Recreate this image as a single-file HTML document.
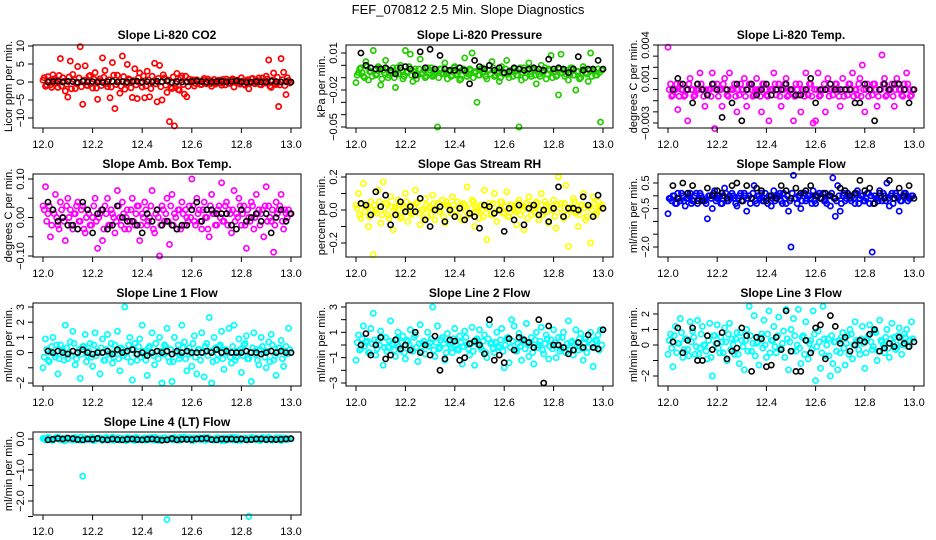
<!DOCTYPE html>
<html><head><meta charset="utf-8"><title>FEF_070812 Slope Diagnostics</title>
<style>
html,body{margin:0;padding:0;background:#fff;}
svg{display:block;font-family:"Liberation Sans",sans-serif;}
</style></head>
<body>
<svg id="chart" width="936" height="540" viewBox="0 0 936 540">
<text x="468" y="14" text-anchor="middle" font-size="13">FEF_070812  2.5 Min. Slope Diagnostics</text>
</svg>
<script>
// shared time axes
const xColored = [12.00,12.01,12.02,12.03,12.04,12.05,12.06,12.07,12.08,12.09,12.10,12.11,12.12,12.13,12.14,12.15,12.16,12.17,12.18,12.19,12.20,12.21,12.22,12.23,12.24,12.25,12.26,12.27,12.28,12.29,12.30,12.31,12.32,12.33,12.34,12.35,12.36,12.37,12.38,12.39,12.40,12.41,12.42,12.43,12.44,12.45,12.46,12.47,12.48,12.49,12.50,12.51,12.52,12.53,12.54,12.55,12.56,12.57,12.58,12.59,12.60,12.61,12.62,12.63,12.64,12.65,12.66,12.67,12.68,12.69,12.70,12.71,12.72,12.73,12.74,12.75,12.76,12.77,12.78,12.79,12.80,12.81,12.82,12.83,12.84,12.85,12.86,12.87,12.88,12.89,12.90,12.91,12.92,12.93,12.94,12.95,12.96,12.97,12.98,12.99];
const xBand = [12.005,12.015,12.025,12.035,12.045,12.055,12.065,12.075,12.085,12.095,12.105,12.115,12.125,12.135,12.145,12.155,12.165,12.175,12.185,12.195,12.205,12.215,12.225,12.235,12.245,12.255,12.265,12.275,12.285,12.295,12.305,12.315,12.325,12.335,12.345,12.355,12.365,12.375,12.385,12.395,12.405,12.415,12.425,12.435,12.445,12.455,12.465,12.475,12.485,12.495,12.505,12.515,12.525,12.535,12.545,12.555,12.565,12.575,12.585,12.595,12.605,12.615,12.625,12.635,12.645,12.655,12.665,12.675,12.685,12.695,12.705,12.715,12.725,12.735,12.745,12.755,12.765,12.775,12.785,12.795,12.805,12.815,12.825,12.835,12.845,12.855,12.865,12.875,12.885,12.895,12.905,12.915,12.925,12.935,12.945,12.955,12.965,12.975,12.985,12.995];
const xBlack = [12.02,12.04,12.06,12.08,12.10,12.12,12.14,12.16,12.18,12.20,12.22,12.24,12.26,12.28,12.30,12.32,12.34,12.36,12.38,12.40,12.42,12.44,12.46,12.48,12.50,12.52,12.54,12.56,12.58,12.60,12.62,12.64,12.66,12.68,12.70,12.72,12.74,12.76,12.78,12.80,12.82,12.84,12.86,12.88,12.90,12.92,12.94,12.96,12.98,13.00];
const xTicks = [12.0,12.2,12.4,12.6,12.8,13.0];
const xTickLabels = ["12.0","12.2","12.4","12.6","12.8","13.0"];

const co2Colored = [0.5,-1.2,1.5,-0.8,2.0,0.3,-1.5,6.5,1.2,-2.5,-4.2,5.8,2.1,-1.8,4.3,9.8,-6.2,4.5,-1.0,1.8,-1.7,2.6,-4.8,0.9,6.7,3.2,-1.3,-4.4,5.4,-7.4,1.9,-3.1,7.2,-2.0,4.9,0.6,-4.3,3.7,-4.6,2.5,-1.4,-4.4,3.0,-4.1,1.6,5.2,-5.5,4.6,-5.0,1.1,-2.9,-11.0,-1.8,-12.2,2.4,-2.3,1.7,-3.4,-4.1,0.8,0.4,-1.1,0.6,0.2,-0.7,1.0,-0.5,0.3,-1.2,0.7,-0.3,0.5,-0.9,0.2,0.8,-0.4,0.6,-1.4,0.3,-0.2,1.2,-0.6,0.4,-1.9,0.9,-0.3,0.5,1.1,-0.8,0.2,1.6,6.1,-1.5,2.5,-0.7,-6.8,6.5,2.7,-3.5,0.4];
const co2Band = [1.2,-0.8,0.4,-1.5,0.9,-0.3,1.8,-1.1,0.2,-0.6,1.4,-1.9,0.7,-0.2,1.1,-1.3,0.5,-0.9,1.6,-0.4,0.8,-1.7,0.3,-1.0,1.3,-0.5,0.6,-1.4,1.9,-0.7,0.1,-1.2,1.5,-0.3,0.9,-1.6,0.4,-0.8,1.2,-0.2,1.7,-1.1,0.6,-1.8,0.3,-0.5,1.0,-1.3,2.0,-0.9,0.5,-1.5,1.4,-0.4,-2.1,1.1,-0.7,1.6,-1.2,0.2,0.6,-0.4,0.3,-0.7,0.5,-0.2,0.8,-0.5,0.1,-0.6,0.4,-0.3,0.7,-0.8,0.2,-0.4,0.9,-0.1,0.5,-0.6,0.3,-0.9,0.6,-0.2,1.0,-0.5,0.4,-0.7,1.1,-0.3,0.8,-1.2,0.5,-0.4,1.3,-0.8,0.6,-1.0,1.2,-0.3];
const co2Black = [0.0,0.1,0.2,0.0,0.2,0.1,-0.1,0.2,0.0,0.1,0.0,-0.1,0.1,0.2,0.0,0.1,0.0,0.1,0.2,0.0,0.1,0.0,0.2,0.1,0.3,-0.1,0.1,0.0,0.0,0.1,0.3,0.1,0.0,0.0,0.1,0.2,0.0,0.1,0.3,0.0,-0.1,0.0,0.1,0.0,0.0,0.2,0.1,0.0,0.1,0.0];

const presColored = [-0.014,-0.006,-0.002,-0.009,0.003,-0.012,-0.005,0.012,-0.008,-0.001,-0.016,-0.004,0.004,-0.010,-0.006,-0.002,-0.018,-0.007,0.000,-0.011,0.012,-0.005,0.009,-0.013,-0.003,-0.008,0.005,-0.006,-0.010,-0.002,-0.004,-0.009,-0.007,-0.050,-0.003,-0.006,0.002,-0.011,-0.005,-0.008,-0.001,-0.007,-0.012,-0.004,0.006,-0.009,-0.003,0.010,-0.006,-0.030,-0.008,-0.002,-0.005,-0.011,-0.004,0.003,-0.009,-0.006,-0.013,-0.001,-0.007,0.004,-0.010,-0.005,-0.003,-0.008,-0.050,-0.012,-0.002,-0.006,0.002,-0.009,-0.004,-0.015,-0.007,0.000,-0.005,-0.011,-0.003,0.008,-0.006,-0.009,-0.024,0.009,-0.004,-0.007,-0.012,-0.002,-0.008,-0.020,-0.005,-0.010,-0.001,-0.006,-0.013,0.010,-0.004,-0.008,-0.003,-0.046];
const presBand = [-0.008,-0.003,-0.006,-0.010,-0.001,-0.005,-0.009,-0.004,-0.007,-0.002,-0.011,-0.006,-0.003,-0.008,-0.005,-0.010,-0.002,-0.007,-0.004,-0.009,-0.006,-0.001,-0.008,-0.005,-0.011,-0.003,-0.007,-0.004,-0.009,-0.006,-0.002,-0.008,-0.005,-0.010,-0.003,-0.007,-0.006,-0.004,-0.009,-0.002,-0.008,-0.005,-0.011,-0.003,-0.006,-0.007,-0.004,-0.010,-0.005,-0.008,-0.003,-0.006,-0.009,-0.004,-0.007,-0.002,-0.008,-0.005,-0.010,-0.006,-0.003,-0.007,-0.004,-0.009,-0.005,-0.008,-0.002,-0.006,-0.010,-0.004,-0.007,-0.003,-0.008,-0.005,-0.009,-0.006,-0.002,-0.007,-0.004,-0.010,-0.005,-0.008,-0.003,-0.006,-0.009,-0.004,-0.007,-0.002,-0.008,-0.005,-0.011,-0.006,-0.003,-0.007,-0.004,-0.009,-0.005,-0.008,-0.006,-0.004];
const presBlack = [0.010,0.000,-0.002,-0.003,-0.003,-0.002,-0.004,-0.007,-0.002,-0.001,-0.003,-0.008,0.011,-0.002,0.013,-0.003,0.008,-0.003,-0.004,-0.004,-0.002,-0.004,-0.015,0.004,-0.001,-0.003,0.000,-0.004,-0.002,-0.006,-0.005,-0.002,-0.003,-0.004,-0.003,-0.002,-0.003,-0.004,0.005,-0.003,-0.002,-0.003,-0.006,-0.003,0.007,-0.004,-0.003,-0.003,0.004,-0.003];

const tempColored = [0.0038,0.0005,-0.0005,0,-0.0018,0.0005,0,-0.0005,-0.0028,0.0010,0,-0.0005,0.0005,0.0015,0,-0.0015,-0.0005,0,0.0015,-0.0035,0.0005,0,-0.0015,0.0010,-0.0005,0.0015,0,0.0005,-0.0020,-0.0005,0,0.0010,-0.0015,0.0005,0,-0.0005,0.0010,0,-0.0020,0.0005,-0.0005,-0.0028,0,0.0015,-0.0005,0.0005,-0.0015,0,0.0010,-0.0005,0,-0.0028,0.0005,-0.0005,-0.0020,0,0.0015,-0.0005,0.0005,-0.0030,-0.0028,0.0015,-0.0005,0,-0.0020,0.0010,0,-0.0005,0.0005,0,-0.0015,0.0010,0,-0.0005,0.0005,0.0015,0,-0.0005,0.0010,0.0022,-0.0020,0.0005,0,-0.0005,0.0005,-0.0015,0,0.0031,0.0010,-0.0005,0,0.0005,-0.0015,0.0010,0,-0.0005,0.0005,0.0015,0,-0.0005];
const tempBand = [0,-0.0006,0,0.0005,-0.0006,0,-0.0006,0,0.0005,0,-0.0006,0,0,0.0005,-0.0006,0,0,-0.0006,0.0005,0,-0.0006,0,0.0005,0,-0.0006,0,0,-0.0006,0,0.0005,0,-0.0006,0,0.0005,-0.0006,0,0,-0.0006,0.0005,0,-0.0006,0,0,0.0005,0,-0.0006,0,0.0005,-0.0006,0,0,-0.0006,0,0.0005,0,-0.0006,0,0.0005,-0.0006,0,0,-0.0006,0,0.0005,0,-0.0006,0,0,0.0005,-0.0006,0,-0.0006,0,0.0005,0,-0.0006,0,0.0005,-0.0006,0,0,-0.0006,0,0.0005,0,-0.0006,0,0.0005,-0.0006,0,0,-0.0006,0,0.0005,0,-0.0006,0,0.0005,-0.0006,0];
const tempBlack = [0,0.0010,0.0005,0,-0.0012,0.0005,0,-0.0005,0.0005,0,-0.0025,0,-0.0012,0.0005,-0.0028,0,0.0005,-0.0005,0,0.0005,-0.0005,0,0,0.0005,0,-0.0005,-0.0005,0,0.0010,-0.0012,0,0,0.0005,0,0,0,0,-0.0012,-0.0012,0.0005,0,-0.0028,0,0.0005,0,0.0005,0.0005,0,-0.0012,0];

const ambColored = [0.03,0.08,0.01,-0.05,0.02,0.06,-0.02,0.04,0.00,-0.06,0.05,0.02,-0.03,0.01,0.04,-0.01,0.03,-0.04,0.02,-0.02,0.00,0.05,-0.08,0.01,-0.06,0.03,0.05,-0.02,0.01,-0.04,0.07,0.00,0.04,-0.03,0.02,-0.01,0.05,-0.02,0.03,-0.06,0.01,0.04,-0.02,0.00,0.07,-0.04,0.02,-0.10,0.03,-0.01,0.05,-0.07,0.06,0.01,-0.03,0.02,0.04,-0.02,0.00,0.03,0.10,-0.01,0.05,0.02,-0.03,0.04,0.00,-0.05,0.06,0.01,-0.02,0.03,0.09,-0.01,0.04,0.02,-0.04,0.07,0.01,0.05,-0.02,0.03,-0.08,0.00,0.04,-0.03,0.06,0.02,0.01,-0.05,0.08,0.03,-0.01,-0.09,0.04,0.02,0.06,-0.03,0.01,0.02];
const ambBand = [0.02,-0.01,0.03,-0.02,0.01,0.00,-0.03,0.02,-0.01,0.03,0.00,-0.02,0.01,0.03,-0.01,0.02,-0.03,0.00,0.01,-0.02,0.03,-0.01,0.00,0.02,-0.03,0.01,-0.02,0.02,0.00,-0.01,0.03,-0.02,0.01,0.00,-0.03,0.02,-0.01,0.01,0.03,-0.02,0.00,0.02,-0.01,0.03,-0.03,0.01,0.00,-0.02,0.02,0.01,-0.01,0.03,-0.02,0.00,0.02,-0.03,0.01,0.02,-0.01,0.00,0.03,-0.02,0.01,-0.01,0.02,0.00,-0.03,0.03,0.01,-0.02,0.02,0.00,-0.01,0.03,-0.02,0.01,0.02,-0.01,0.00,0.03,0.01,-0.02,0.02,-0.01,0.03,0.00,0.01,-0.02,0.02,0.03,-0.01,0.00,0.02,-0.02,0.01,0.03,-0.01,0.02,0.00,0.01];
const ambBlack = [0.04,0.02,-0.01,0.00,-0.02,-0.02,-0.03,0.04,0.02,-0.04,0.01,0.02,-0.03,-0.02,0.03,0.00,-0.01,-0.01,-0.02,-0.04,0.01,-0.01,0.02,-0.02,-0.01,-0.02,-0.03,-0.02,-0.02,0.02,0.04,-0.01,0.02,0.02,0.01,0.01,0.01,-0.02,-0.03,0.02,-0.01,0.00,0.01,-0.01,0.01,-0.04,0.00,0.02,-0.01,0.01];

const rhColored = [0.03,0.10,-0.05,0.16,0.02,-0.10,0.05,-0.27,0.00,0.12,-0.08,0.17,0.04,-0.03,0.08,-0.12,0.02,0.06,-0.05,0.01,0.10,-0.07,0.03,-0.02,0.12,0.05,-0.09,0.00,0.07,-0.04,0.02,0.09,-0.06,0.04,-0.01,0.06,-0.08,0.03,0.00,0.08,-0.04,0.05,0.01,-0.06,0.03,0.14,-0.02,0.06,-0.10,0.02,-0.05,0.00,0.12,-0.18,0.04,-0.03,0.10,-0.07,0.01,0.05,-0.02,0.11,-0.04,0.03,0.00,-0.09,0.06,0.02,-0.12,0.04,0.08,-0.03,0.01,0.05,-0.06,0.10,-0.01,0.03,-0.08,0.02,0.06,-0.11,0.20,0.04,-0.05,0.15,-0.22,0.01,0.07,-0.02,-0.10,0.03,0.10,-0.06,0.02,-0.20,0.08,-0.03,0.05,0.02];
const rhBand = [0.01,-0.03,0.04,-0.01,0.02,-0.04,0.00,0.03,-0.02,0.05,-0.03,0.01,0.04,-0.05,0.02,0.00,-0.02,0.03,-0.04,0.01,0.05,-0.01,-0.03,0.02,0.04,-0.02,0.00,-0.05,0.03,0.01,-0.03,0.04,0.00,-0.01,0.02,-0.04,0.05,0.01,-0.02,0.03,0.00,-0.04,0.02,0.04,-0.01,-0.03,0.01,0.05,-0.02,0.00,0.03,-0.04,0.02,0.01,-0.03,0.04,-0.01,0.00,0.05,-0.02,0.02,-0.04,0.03,0.01,-0.01,0.04,-0.03,0.00,0.02,-0.05,0.03,0.01,-0.02,0.04,0.00,-0.03,0.05,-0.01,0.02,0.00,-0.04,0.03,0.01,-0.02,0.04,-0.03,0.00,0.02,0.05,-0.01,-0.03,0.03,0.01,-0.04,0.02,0.00,0.04,-0.02,0.01,0.03];
const rhBlack = [0.04,0.03,-0.03,0.11,0.02,0.09,-0.09,-0.03,0.05,-0.01,0.02,-0.01,0.07,-0.06,-0.10,0.00,0.02,-0.07,0.00,-0.04,0.01,-0.06,-0.02,-0.04,-0.11,0.03,0.02,-0.02,0.00,-0.13,0.01,-0.06,0.03,-0.09,0.01,0.03,-0.03,0.00,-0.07,0.01,0.14,-0.04,0.01,0.01,0.00,0.08,0.03,-0.04,0.09,0.01];

const sampleColored = [-0.7,-0.1,0.0,-0.3,0.1,-0.2,0.0,-0.4,-0.1,0.1,-0.2,0.0,-0.3,0.1,-0.1,-0.2,-0.9,0.0,-0.5,0.2,-0.1,0.0,-0.3,0.3,-0.2,0.0,0.1,-0.1,-0.4,0.0,-0.2,0.1,-0.6,0.0,-0.1,0.4,-0.3,0.0,0.1,-0.2,-0.1,0.0,-0.4,0.2,-0.1,0.0,-0.2,0.1,-0.3,-0.6,-2.0,0.8,-0.1,0.0,-0.5,0.1,-0.2,0.0,-0.1,0.2,-0.3,0.0,-0.1,0.1,-0.2,0.0,-0.4,0.7,-0.8,0.4,-0.6,0.0,-0.2,0.1,-0.1,0.0,-0.3,0.2,-0.1,0.0,-0.2,0.1,-0.3,-2.2,0.0,-0.1,0.2,-0.2,0.0,0.5,-0.4,0.1,-0.1,0.0,-0.6,-0.2,0.1,0.0,-0.1,0.0];
const sampleBand = [-0.1,-0.2,0.0,-0.3,-0.1,0.1,-0.2,-0.1,0.0,-0.3,-0.2,0.1,-0.1,0.0,-0.2,-0.3,0.0,-0.1,0.1,-0.2,-0.1,-0.3,0.0,0.1,-0.2,-0.1,0.0,-0.3,-0.1,0.1,-0.2,0.0,-0.1,-0.3,0.1,-0.2,0.0,-0.1,-0.2,0.1,-0.3,0.0,-0.1,-0.2,0.0,0.1,-0.3,-0.1,0.0,-0.2,0.1,-0.1,-0.3,0.0,-0.2,0.1,-0.1,0.0,-0.3,-0.2,0.0,0.1,-0.1,-0.2,-0.3,0.0,0.1,-0.1,-0.2,0.0,-0.3,0.1,-0.1,0.0,-0.2,-0.1,0.1,-0.3,0.0,-0.2,-0.1,0.1,0.0,-0.3,-0.1,-0.2,0.0,0.1,-0.2,-0.1,0.0,-0.3,0.1,-0.1,-0.2,0.0,0.1,-0.2,-0.1,0.0];
const sampleBlack = [0.4,-0.1,0.5,0.1,0.4,-0.2,-0.2,0.3,0.0,0.2,0.1,-0.1,0.4,0.5,-0.2,0.4,-0.1,0.3,0.2,-0.2,0.0,-0.1,0.4,0.2,-0.1,0.3,0.1,0.2,0.4,0.0,-0.1,0.1,0.0,-0.1,0.3,0.2,0.0,0.1,0.6,0.2,0.3,-0.3,0.1,-0.1,0.6,-0.1,0.3,0.0,0.4,-0.1];

const line1Colored = [-1.0,0.9,-0.5,0.0,1.0,-0.3,-1.4,0.5,0.2,1.8,-0.4,0.7,1.4,-0.8,0.0,-1.7,0.4,1.2,-0.2,0.6,-0.9,1.3,0.1,-1.4,0.9,-0.5,1.2,0.0,-0.7,0.5,1.4,-1.2,0.2,3.0,-0.3,1.0,-1.8,0.6,-0.5,0.9,1.8,-0.2,-1.5,0.4,1.3,-0.8,0.1,1.0,-2.0,0.5,1.6,-0.6,-1.9,1.0,0.0,-0.4,1.8,0.7,-1.2,0.3,-0.9,1.1,-1.4,0.2,1.3,-1.6,0.6,2.3,-2.0,1.0,-0.5,0.4,1.4,-1.1,0.0,1.6,-0.7,1.8,-0.3,0.9,-1.3,0.5,1.1,-0.4,-1.9,1.3,0.2,-0.8,1.0,0.0,-1.0,0.7,1.2,-0.5,-1.5,0.3,0.8,-0.9,0.4,1.6];
const line1Band = [-0.3,0.2,-0.6,0.4,-0.1,0.5,-0.4,0.1,-0.5,0.3,0.0,-0.2,0.6,-0.4,0.2,-0.1,0.4,-0.6,0.1,-0.3,0.5,-0.2,0.0,0.3,-0.5,0.2,-0.1,0.6,-0.3,0.1,-0.4,0.3,-0.2,0.0,0.5,-0.6,0.2,-0.1,0.4,-0.3,0.1,-0.5,0.3,0.0,-0.2,0.6,-0.4,0.1,-0.1,0.4,-0.3,0.2,-0.6,0.0,0.5,-0.2,0.3,-0.4,0.1,-0.1,0.6,-0.3,0.2,-0.5,0.0,0.4,-0.2,0.1,-0.6,0.3,-0.1,0.5,-0.4,0.2,0.0,-0.3,0.4,-0.5,0.1,0.2,-0.2,0.6,-0.4,0.0,0.3,-0.1,-0.5,0.2,0.4,-0.3,0.1,-0.6,0.5,-0.2,0.0,0.3,-0.4,0.1,-0.1,0.2];
const line1Black = [0.1,0.0,0.1,0.0,-0.1,0.1,0.0,0.2,0.0,-0.1,0.0,0.0,0.1,-0.1,0.2,0.0,0.1,0.2,-0.1,0.0,-0.2,0.0,0.1,0.0,0.1,-0.1,0.1,0.0,0.1,0.0,0.0,0.0,0.1,0.0,0.2,0.0,0.1,0.0,0.0,0.0,0.1,0.0,0.0,-0.1,0.0,0.1,0.0,0.1,0.0,0.0];

const line2Colored = [-1.2,0.8,-0.3,1.5,0.2,-0.6,1.3,2.5,-0.8,0.4,1.1,-1.6,0.6,-0.2,1.9,0.0,-0.9,1.0,-0.4,0.7,-1.1,0.3,1.2,-0.5,0.8,-1.3,1.6,0.1,-0.7,1.0,0.2,3.0,-0.9,1.5,-0.2,0.6,-1.2,0.9,0.0,-0.6,1.3,-0.3,0.7,-1.5,1.1,0.0,-0.8,1.4,-1.6,0.5,1.2,-0.4,0.8,-1.0,1.6,0.2,-0.6,1.0,-0.2,1.3,-1.8,0.5,-1.4,2.0,1.5,-0.5,0.9,-1.2,0.3,1.7,-0.9,0.6,-1.5,1.0,0.0,1.4,-0.7,0.8,-1.1,0.4,1.2,-1.0,0.6,-0.3,1.0,-0.6,1.9,0.2,-0.8,1.2,-0.4,0.9,-1.2,0.5,-0.2,1.0,-1.7,0.4,0.8,1.2];
const line2Band = [0.2,-0.4,0.5,-0.1,0.3,-0.6,0.1,0.4,-0.3,0.0,0.6,-0.2,-0.5,0.3,0.1,-0.4,0.5,-0.1,0.2,-0.6,0.4,0.0,-0.3,0.6,-0.2,0.1,-0.5,0.3,0.0,-0.1,0.5,-0.4,0.2,-0.3,0.4,0.1,-0.6,0.3,-0.2,0.5,0.0,-0.4,0.2,-0.1,0.6,-0.3,0.1,-0.5,0.4,0.0,-0.2,0.3,-0.6,0.5,0.1,-0.3,0.2,-0.1,0.4,-0.5,0.0,0.6,-0.2,0.3,-0.4,0.1,-0.1,0.5,-0.3,0.2,0.0,-0.6,0.4,-0.2,0.3,-0.4,0.1,0.5,-0.1,-0.3,0.2,0.0,-0.5,0.6,-0.2,0.1,-0.4,0.3,0.0,-0.1,0.5,-0.3,0.2,-0.6,0.4,0.1,-0.2,0.3,-0.4,0.0];
const line2Black = [0.0,0.9,-0.8,0.0,0.6,-1.1,-0.8,0.4,-0.3,0.0,-0.4,1.0,-0.6,0.0,-0.8,0.7,-2.0,-1.1,0.4,0.3,-1.2,-1.0,0.1,0.3,0.0,-0.7,2.0,-1.2,-0.8,-1.4,0.5,-0.4,0.6,0.4,0.2,-0.2,2.0,-3.0,1.5,0.0,0.0,-0.2,-0.7,-0.4,0.2,-0.2,0.8,-0.2,-0.3,1.2];

const line3Colored = [-0.6,0.7,-1.4,1.2,0.1,1.7,-0.8,0.4,-0.3,1.5,0.9,-0.6,1.6,-0.2,1.2,0.0,-0.9,1.4,-2.0,0.6,1.3,-0.5,0.2,1.1,-1.0,1.4,0.4,-0.6,0.8,-1.2,0.3,-1.6,1.0,2.5,-0.4,1.9,0.1,-1.3,0.7,1.6,-0.8,2.2,0.3,1.2,-0.5,1.8,-0.2,0.9,2.3,-1.6,1.0,1.7,-0.4,2.3,-1.2,0.6,1.5,-0.9,0.3,2.2,-2.3,0.9,-1.5,2.5,-0.7,0.4,-2.0,-1.2,0.2,-1.6,-0.5,0.8,-1.3,0.6,1.0,-0.9,1.5,0.2,-0.6,1.2,-1.5,0.4,1.3,-0.3,0.9,-1.0,1.6,0.2,-0.5,1.0,-0.8,1.4,0.5,-0.2,1.1,-0.6,0.7,1.0,0.3,1.5];
const line3Band = [0.3,-0.2,0.6,-0.5,0.1,0.8,-0.3,0.4,-0.7,0.2,0.5,-0.1,-0.6,0.7,0.0,-0.4,0.3,-0.8,0.6,0.1,-0.2,0.5,-0.5,0.2,0.7,-0.3,0.0,0.4,-0.6,0.8,-0.1,0.3,-0.4,0.6,0.1,-0.7,0.2,0.5,-0.2,0.0,0.7,-0.5,0.3,-0.1,0.6,-0.3,0.1,-0.8,0.4,0.2,-0.4,0.6,0.0,-0.2,0.5,-0.6,0.3,0.1,-0.3,0.7,-0.1,0.2,-0.5,0.4,0.0,-0.7,0.6,0.2,-0.4,0.3,0.5,-0.2,0.1,-0.6,0.7,0.0,0.3,-0.3,0.4,0.1,-0.5,0.6,0.2,-0.1,0.8,-0.4,0.3,0.0,0.5,-0.2,0.4,0.1,-0.3,0.6,0.2,0.0,0.5,-0.1,0.3,0.4];
const line3Black = [0.2,1.1,-0.5,0.3,1.1,-1.0,-1.0,0.6,-0.3,0.1,0.8,-0.9,-0.4,-0.2,1.1,0.6,-1.7,0.5,0.4,-1.4,-1.3,0.5,-0.3,2.2,-0.4,-1.7,-1.7,0.3,-0.5,1.1,1.3,-0.9,1.9,1.2,0.1,0.5,-0.4,0.0,0.3,0.2,0.7,1.0,-0.4,-0.2,0.1,-0.1,0.5,0.1,-0.1,0.2];

const line4Colored = [0.02,-0.03,0.05,0.00,-0.04,0.03,0.06,-0.02,0.01,-0.05,0.04,0.00,-0.03,0.05,0.02,-0.04,-1.20,0.03,0.00,-0.02,0.05,-0.03,0.01,0.04,-0.05,0.02,0.00,-0.03,0.06,-0.01,0.03,-0.04,0.02,0.00,0.05,-0.02,0.01,-0.05,0.03,0.00,-0.03,0.04,0.01,-0.02,0.05,-0.04,0.02,0.00,-0.03,0.04,-2.60,0.01,-0.02,0.05,0.00,-0.04,0.03,0.06,-0.01,0.02,-0.05,0.03,0.00,0.04,-0.02,0.05,-0.03,0.01,0.00,-0.04,0.03,0.02,-0.05,0.04,0.00,-0.02,0.05,-0.03,0.01,0.03,-0.04,0.00,0.02,-2.50,0.05,-0.01,0.03,-0.04,0.02,0.00,-0.03,0.05,0.01,-0.02,0.04,0.00,-0.05,0.03,0.02,-0.01];
const line4Band = [0.01,-0.02,0.03,-0.04,0.00,0.05,-0.01,0.02,-0.05,0.04,-0.02,0.01,0.03,-0.03,0.00,0.06,-0.04,0.02,-0.01,0.04,-0.05,0.01,0.03,-0.02,0.00,0.05,-0.03,0.02,-0.04,0.01,0.04,-0.01,0.00,-0.05,0.03,0.02,-0.02,0.05,-0.03,0.01,0.00,-0.04,0.03,0.02,-0.01,0.05,-0.05,0.01,0.04,-0.02,0.00,0.03,-0.03,0.02,-0.04,0.05,0.01,-0.01,0.00,0.04,-0.05,0.02,0.03,-0.02,0.01,-0.04,0.05,0.00,-0.03,0.02,0.04,-0.01,0.00,-0.05,0.03,0.01,-0.02,0.05,-0.04,0.02,0.00,0.03,-0.03,0.01,0.04,-0.02,0.00,-0.05,0.05,0.02,-0.01,0.03,-0.04,0.01,0.00,0.04,-0.03,0.02,-0.02,0.01];
const line4Black = [-0.03,-0.01,0.02,0.00,0.03,0.01,-0.02,-0.03,0.00,-0.01,0.02,-0.02,-0.03,0.00,-0.02,-0.03,-0.01,0.00,-0.02,-0.03,-0.01,0.00,-0.02,-0.04,-0.03,0.01,-0.03,-0.01,-0.01,-0.02,0.00,0.01,0.02,-0.02,-0.03,0.00,-0.01,0.00,-0.02,0.00,-0.03,-0.02,0.00,0.00,-0.02,-0.01,-0.02,-0.01,0.00,0.01];

// layout (not data)
const colX12 = [43,356,668], colX13 = [291,603,914];
const rowTop = [45,174,303,432], rowBot = [128,257,386,515];

const panels = [
 {name:"co2",title:"Slope Li-820 CO2",ytitle:"Licor ppm per min.",r:0,c:0,col:"#ff0000",cv:co2Colored,bd:co2Band,bv:co2Black,ref:[10,46,-10,118],ticks:[10,5,0,-5,-10],labels:["10","5","0","\u22125","\u221210"]},
 {name:"pressure",title:"Slope Li-820 Pressure",ytitle:"kPa per min.",r:0,c:1,col:"#22cc00",cv:presColored,bd:presBand,bv:presBlack,ref:[0.01,53,-0.05,127],ticks:[0.01,0,-0.01,-0.02,-0.03,-0.04,-0.05],labels:["0.01","","","\u22120.02","","","\u22120.05"]},
 {name:"temp",title:"Slope Li-820 Temp.",ytitle:"degrees C per min.",r:0,c:2,col:"#ff00ff",cv:tempColored,bd:tempBand,bv:tempBlack,ref:[0.004,45,-0.003,123],ticks:[0.004,0.003,0.002,0.001,0,-0.001,-0.002,-0.003],labels:["0.004","","","0.001","","","","\u22120.003"]},
 {name:"amb-box-temp",title:"Slope Amb. Box Temp.",ytitle:"degrees C per min.",r:1,c:0,col:"#ff00ff",cv:ambColored,bd:ambBand,bv:ambBlack,ref:[0.10,179,-0.10,256],ticks:[0.10,0.05,0,-0.05,-0.10],labels:["0.10","","0.00","","\u22120.10"]},
 {name:"gas-stream-rh",title:"Slope Gas Stream RH",ytitle:"percent per min.",r:1,c:1,col:"#ffff00",cv:rhColored,bd:rhBand,bv:rhBlack,ref:[0.2,177,-0.2,243],ticks:[0.2,0.1,0,-0.1,-0.2],labels:["0.2","","0.0","","\u22120.2"]},
 {name:"sample-flow",title:"Slope Sample Flow",ytitle:"ml/min per min.",r:1,c:2,col:"#0000ff",cv:sampleColored,bd:sampleBand,bv:sampleBlack,ref:[0.5,183,-2.0,247],ticks:[0.5,0,-0.5,-1,-1.5,-2],labels:["0.5","","\u22120.5","","","\u22122.0"]},
 {name:"line1-flow",title:"Slope Line 1 Flow",ytitle:"ml/min per min.",r:2,c:0,col:"#00ffff",cv:line1Colored,bd:line1Band,bv:line1Black,ref:[3,307,-2,383],ticks:[3,2,1,0,-1,-2],labels:["3","2","1","0","","\u22122"]},
 {name:"line2-flow",title:"Slope Line 2 Flow",ytitle:"ml/min per min.",r:2,c:1,col:"#00ffff",cv:line2Colored,bd:line2Band,bv:line2Black,ref:[3,307,-3,383],ticks:[3,2,1,0,-1,-2,-3],labels:["3","","1","","\u22121","","\u22123"]},
 {name:"line3-flow",title:"Slope Line 3 Flow",ytitle:"ml/min per min.",r:2,c:2,col:"#00ffff",cv:line3Colored,bd:line3Band,bv:line3Black,ref:[2,314,-2,376],ticks:[2,1,0,-1,-2],labels:["2","1","0","","\u22122"]},
 {name:"line4-flow",title:"Slope Line 4 (LT) Flow",ytitle:"ml/min per min.",r:3,c:0,col:"#00ffff",cv:line4Colored,bd:line4Band,bv:line4Black,ref:[0,439,-2,501],ticks:[0,-0.5,-1,-1.5,-2,-2.5],labels:["0.0","","\u22121.0","","\u22122.0",""]}
];

const NS = "http://www.w3.org/2000/svg";
const svg = document.getElementById("chart");
function mk(tag, attrs, parent){
  const e = document.createElementNS(NS, tag);
  for (const k in attrs) e.setAttribute(k, attrs[k]);
  (parent||svg).appendChild(e);
  return e;
}

panels.forEach(p => {
  const x12 = colX12[p.c], x13 = colX13[p.c];
  const L = x12 - 10, R = x13 + 10, T = rowTop[p.r], B = rowBot[p.r];
  const xs = v => x12 + (v - 12) * (x13 - x12);
  const [v1, p1, v2, p2] = p.ref;
  const ys = v => p1 + (v - v1) * (p2 - p1) / (v2 - v1);

  const g = mk("g", {});
  
  

  const title = mk("text", {x:(L+R)/2, y:T-6, "text-anchor":"middle", "font-size":"12", "font-weight":"bold"}, g);
  title.textContent = p.title;
  
  

  const yt = mk("text", {transform:`translate(${L-21},${(T+B)/2}) rotate(-90)`, "text-anchor":"middle", "font-size":"11"}, g);
  yt.textContent = p.ytitle;
  
  

  const pts = mk("g", {}, g);
  
  
  p.bd.forEach((v, i) => {
    const c = mk("circle", {cx:xs(xBand[i]).toFixed(1), cy:ys(v).toFixed(1), r:"2.6", fill:"none", stroke:p.col, "stroke-width":"1.7"}, pts);
    
    
  });
  p.cv.forEach((v, i) => {
    const c = mk("circle", {cx:xs(xColored[i]).toFixed(1), cy:ys(v).toFixed(1), r:"2.6", fill:"none", stroke:p.col, "stroke-width":"1.7"}, pts);
    
    
  });
  p.bv.forEach((v, i) => {
    const c = mk("circle", {cx:xs(xBlack[i]).toFixed(1), cy:ys(v).toFixed(1), r:"2.6", fill:"none", stroke:"#000", "stroke-width":"1.6"}, pts);
    
    
  });

  const box = mk("rect", {x:L, y:T, width:R-L, height:B-T, fill:"none", stroke:"#000", "stroke-width":"1"}, g);
  
  

  xTicks.forEach((t, i) => {
    const x = xs(t);
    const tk = mk("line", {x1:x, y1:B, x2:x, y2:B+5, stroke:"#000"}, g);
    
    
    const lb = mk("text", {x:x, y:B+20, "text-anchor":"middle", "font-size":"11"}, g);
    lb.textContent = xTickLabels[i];
    
    
  });
  p.ticks.forEach((t, i) => {
    const y = ys(t);
    const tk = mk("line", {x1:L-5, y1:y, x2:L, y2:y, stroke:"#000"}, g);
    
    
    if (p.labels[i]) {
      const lb = mk("text", {transform:`translate(${L-9},${y}) rotate(-90)`, "text-anchor":"middle", "font-size":"11"}, g);
      lb.textContent = p.labels[i];
      
      
    }
  });
});
</script>
</body></html>
